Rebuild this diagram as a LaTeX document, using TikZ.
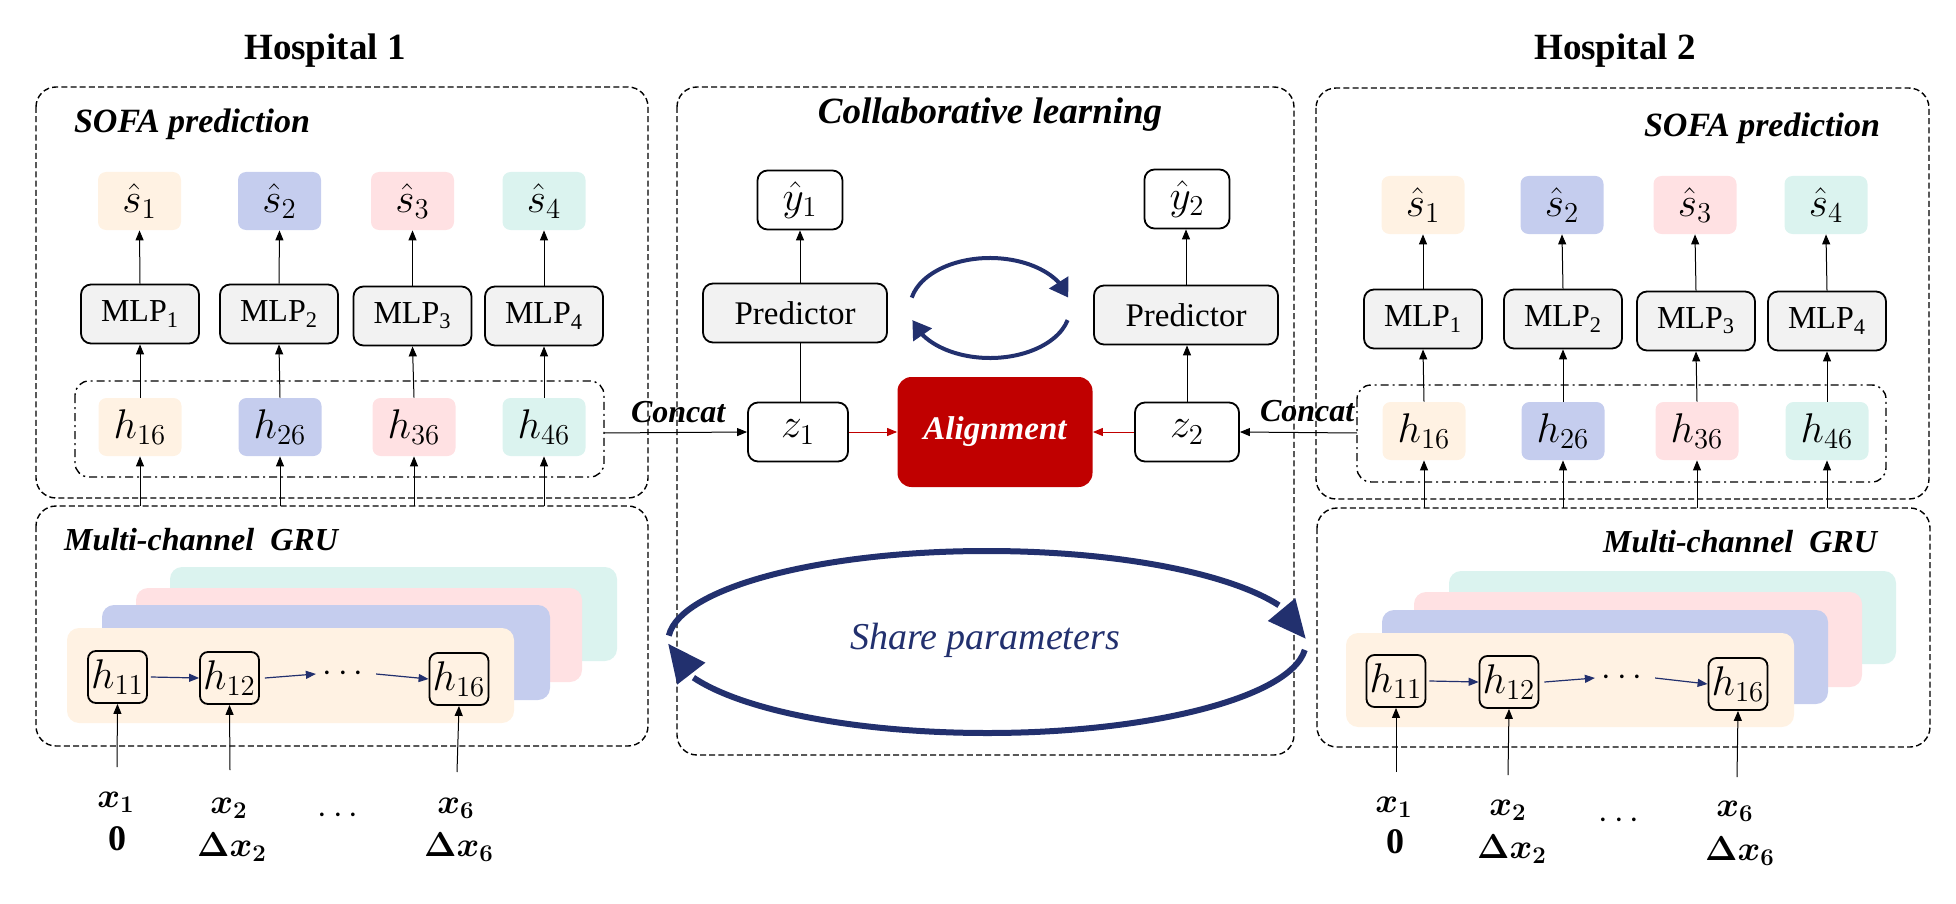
\documentclass[tikz,border=0pt]{standalone}
\usepackage{fontspec}
\setmainfont{Liberation Serif}
\usepackage{amsmath,bm}
\usetikzlibrary{arrows.meta,bending,calc}
\definecolor{corange}{HTML}{FFF2E3}
\definecolor{cblue}{HTML}{C5CDEE}
\definecolor{cpink}{HTML}{FFE1E3}
\definecolor{cteal}{HTML}{DBF3EF}
\definecolor{boxgray}{HTML}{F2F2F2}
\definecolor{navy}{HTML}{22306E}
\definecolor{alignred}{HTML}{C00000}
\newcommand\myfs[1]{\fontsize{#1}{#1}\selectfont}
\tikzset{
 panel/.style={draw, line width=0.7pt, dash pattern=on 3pt off 1.6pt, rounded corners=10pt},
 ddbox/.style={draw, line width=0.7pt, dash pattern=on 4pt off 2pt on 1pt off 2pt, rounded corners=7pt},
 cbox/.style={rounded corners=4pt, inner sep=0pt, minimum width=41.5pt, minimum height=29pt, font=\myfs{21}},
 mlp/.style={draw, line width=0.9pt, fill=boxgray, rounded corners=5pt, inner sep=0pt, minimum width=59pt, minimum height=29.5pt, font=\myfs{16}},
 pred/.style={mlp, minimum width=92pt, font=\myfs{16.5}},
 wbox/.style={draw, line width=0.9pt, fill=white, rounded corners=5pt, inner sep=0pt, minimum height=29.5pt, font=\myfs{22}},
 hbox/.style={draw, line width=0.9pt, rounded corners=4pt, inner sep=0pt, minimum width=29.5pt, minimum height=26pt, font=\myfs{19.5}},
 arr/.style={-{Triangle[length=5pt,width=4pt]}, line width=0.5pt},
 narr/.style={arr, draw=navy, line width=0.6pt},
 rarr/.style={arr, draw=alignred},
 htitle/.style={font=\myfs{18.5}\bfseries, anchor=base},
 ltitle/.style={font=\myfs{16}\bfseries\itshape, anchor=base},
 inp/.style={inner sep=1pt, font=\myfs{18}},
 bigarr/.style={draw=navy, line width=3pt, -{Triangle[length=19pt,width=17pt]}},
 smarr/.style={draw=navy, line width=2pt, -{Triangle[length=9pt,width=11pt]}},
}
\begin{document}
\begin{tikzpicture}[x=0.5pt,y=-0.5pt]
\useasboundingbox (0,0) rectangle (1956,904);

% ================= Hospital 1 =================
\node[htitle] (t1) at (325,60) {Hospital 1};
\draw[panel] (36,87) rectangle (648,498);
\draw[panel] (36,506) rectangle (648,746);
\coordinate (g1top) at (342,506);
\node[ltitle, anchor=base west, font=\myfs{17}\bfseries\itshape] (sofa1) at (67,133) {SOFA prediction};
\node[ltitle, anchor=base west] (gru1) at (57,550) {Multi-channel\ \ GRU};

\node[cbox, fill=corange] (a1s1) at (139.5,201) {$\hat{s}_1$};
\node[cbox, fill=cblue]   (a1s2) at (279.5,201) {$\hat{s}_2$};
\node[cbox, fill=cpink]   (a1s3) at (412.5,201) {$\hat{s}_3$};
\node[cbox, fill=cteal]   (a1s4) at (544,201) {$\hat{s}_4$};

\node[mlp] (a1m1) at (140,314) {MLP\textsubscript{1}};
\node[mlp] (a1m2) at (279,314) {MLP\textsubscript{2}};
\node[mlp] (a1m3) at (412.5,316) {MLP\textsubscript{3}};
\node[mlp] (a1m4) at (544,316) {MLP\textsubscript{4}};

\draw[ddbox] (75,381) rectangle (604,477);
\coordinate (dd1r) at (604,433);
\node[cbox, fill=corange] (a1h1) at (140,427) {$h_{16}$};
\node[cbox, fill=cblue]   (a1h2) at (280,427) {$h_{26}$};
\node[cbox, fill=cpink]   (a1h3) at (414,427) {$h_{36}$};
\node[cbox, fill=cteal]   (a1h4) at (544,427) {$h_{46}$};

\foreach \i in {1,2,3,4}{
  \draw[arr] (a1m\i.north) -- (a1s\i.south);
  \draw[arr] (a1h\i.north) -- (a1m\i.south);
  \draw[arr] (a1h\i.south |- g1top) -- (a1h\i.south);
}

\fill[cteal, rounded corners=6pt] (170,567) rectangle (617,661);
\fill[cpink, rounded corners=6pt] (136,588) rectangle (582,682);
\fill[cblue, rounded corners=6pt] (102,605) rectangle (550,700);
\fill[corange, rounded corners=6pt] (67,628) rectangle (514,723);

\node[hbox] (g1h1) at (117.5,677) {$h_{11}$};
\node[hbox] (g1h2) at (229.5,678) {$h_{12}$};
\node[font=\myfs{19}] (g1dots) at (346,674) {$\cdots$};
\node[hbox] (g1h6) at (459,679) {$h_{16}$};
\draw[narr] (g1h1.east) ++(3,0) -- (g1h2.west);
\draw[narr] (g1h2.east) ++(5,0) -- (g1dots.west);
\draw[narr] (g1dots.east) -- (g1h6.west);

\node[inp] (i1x1) at (116,802) {$\bm{x}_{\bm{1}}$};
\node[inp] (i1z1) at (117,839) {$\mathbf{0}$};
\node[inp] (i1x2) at (229,808) {$\bm{x}_{\bm{2}}$};
\node[inp] (i1d2) at (232,847) {$\bm{\Delta x}_{\bm{2}}$};
\node[font=\myfs{19}] (i1dots) at (341,816) {$\cdots$};
\node[inp] (i1x6) at (456,808) {$\bm{x}_{\bm{6}}$};
\node[inp] (i1d6) at (459,847) {$\bm{\Delta x}_{\bm{6}}$};
\coordinate (c1a) at (117,767);
\coordinate (c1b) at (230,770);
\coordinate (c1c) at (457,772);
\draw[arr] (c1a) -- (g1h1.south);
\draw[arr] (c1b) -- (g1h2.south);
\draw[arr] (c1c) -- (g1h6.south);

% ================= Collaborative learning =================
\draw[panel] (677,87) rectangle (1294,755);
\node[ltitle, font=\myfs{18.5}\bfseries\itshape] (collab) at (990,124) {Collaborative learning};

\node[wbox, minimum width=42.5pt, font=\myfs{21}] (y1) at (800,200) {$\hat{y}_1$};
\node[pred] (p1) at (795,313) {Predictor};
\node[wbox, minimum width=50pt] (z1) at (798,432) {$z_1$};
\node[fill=alignred, rounded corners=7pt, minimum width=97.5pt, minimum height=55pt, inner sep=0pt,
      text=white, font=\myfs{16.5}\bfseries\itshape] (align) at (995,432) {Alignment};
\node[wbox, minimum width=52pt] (z2) at (1187,432) {$z_2$};
\node[pred] (p2) at (1186,315) {Predictor};
\node[wbox, minimum width=42.5pt, font=\myfs{21}] (y2) at (1187,199) {$\hat{y}_2$};

\draw[arr] (y1.south |- p1.north) -- (y1.south);
\draw[line width=0.5pt] (y1.south |- z1.north) -- (y1.south |- p1.south);
\draw[arr] (z2.north) -- (z2.north |- p2.south);
\draw[arr] (p2.north) -- (p2.north |- y2.south);
\draw[rarr] (z1.east) -- (align.west);
\draw[rarr] (z2.west) -- (align.east);

\draw[arr] (dd1r) -- (z1.west);
\node[ltitle, anchor=base west] (cc1) at (624,422) {Concat};

\draw[smarr] ($(990,308)+(192:80 and 50)$) arc[start angle=192, end angle=348, x radius=80, y radius=50];
\draw[smarr] ($(990,308)+(14:80 and 50)$) arc[start angle=14, end angle=166, x radius=80, y radius=50];

\draw[bigarr] ($(987,642)+(184:319 and 91)$) arc[start angle=184, end angle=358, x radius=319, y radius=91];
\draw[bigarr] ($(987,642)+(5:319 and 91)$) arc[start angle=5, end angle=179, x radius=319, y radius=91];
\node[font=\myfs{19}\itshape, text=navy] (share) at (985,640) {Share parameters};

% ================= Hospital 2 =================
\node[htitle] (t2) at (1615,60) {Hospital 2};
\draw[panel] (1316,88) rectangle (1929,499);
\draw[panel] (1317,508) rectangle (1930,747);
\coordinate (g2top) at (1620,508);
\node[ltitle, anchor=base east, font=\myfs{17}\bfseries\itshape] (sofa2) at (1887,137) {SOFA prediction};
\node[ltitle, anchor=base east] (gru2) at (1884,552) {Multi-channel\ \ GRU};

\node[cbox, fill=corange] (b1s1) at (1423,205) {$\hat{s}_1$};
\node[cbox, fill=cblue]   (b1s2) at (1562,205) {$\hat{s}_2$};
\node[cbox, fill=cpink]   (b1s3) at (1695,205) {$\hat{s}_3$};
\node[cbox, fill=cteal]   (b1s4) at (1826,205) {$\hat{s}_4$};

\node[mlp] (b1m1) at (1423,319) {MLP\textsubscript{1}};
\node[mlp] (b1m2) at (1563,319) {MLP\textsubscript{2}};
\node[mlp] (b1m3) at (1696,321) {MLP\textsubscript{3}};
\node[mlp] (b1m4) at (1827,321) {MLP\textsubscript{4}};

\draw[ddbox] (1357,385) rectangle (1886,482);
\coordinate (dd2l) at (1357,433);
\node[cbox, fill=corange] (b1h1) at (1424,431) {$h_{16}$};
\node[cbox, fill=cblue]   (b1h2) at (1563,431) {$h_{26}$};
\node[cbox, fill=cpink]   (b1h3) at (1697,431) {$h_{36}$};
\node[cbox, fill=cteal]   (b1h4) at (1827,431) {$h_{46}$};

\foreach \i in {1,2,3,4}{
  \draw[arr] (b1m\i.north) -- (b1s\i.south);
  \draw[arr] (b1h\i.north) -- (b1m\i.south);
  \draw[arr] (b1h\i.south |- g2top) -- (b1h\i.south);
}

\draw[arr] (dd2l) -- (z2.east);
\node[ltitle, anchor=base west] (cc2) at (1253,421) {Concat};

\fill[cteal, rounded corners=6pt] (1449,571) rectangle (1896,664);
\fill[cpink, rounded corners=6pt] (1414,592) rectangle (1862,687);
\fill[cblue, rounded corners=6pt] (1382,610) rectangle (1828,704);
\fill[corange, rounded corners=6pt] (1346,633) rectangle (1794,727);

\node[hbox] (g2h1) at (1396,681) {$h_{11}$};
\node[hbox] (g2h2) at (1509,682) {$h_{12}$};
\node[font=\myfs{19}] (g2dots) at (1625,678) {$\cdots$};
\node[hbox] (g2h6) at (1738,684) {$h_{16}$};
\draw[narr] (g2h1.east) ++(3,0) -- (g2h2.west);
\draw[narr] (g2h2.east) ++(5,0) -- (g2dots.west);
\draw[narr] (g2dots.east) -- (g2h6.west);

\node[inp] (i2x1) at (1394,807) {$\bm{x}_{\bm{1}}$};
\node[inp] (i2z1) at (1395,842) {$\mathbf{0}$};
\node[inp] (i2x2) at (1508,810) {$\bm{x}_{\bm{2}}$};
\node[inp] (i2d2) at (1512,849) {$\bm{\Delta x}_{\bm{2}}$};
\node[font=\myfs{19}] (i2dots) at (1622,821) {$\cdots$};
\node[inp] (i2x6) at (1735,811) {$\bm{x}_{\bm{6}}$};
\node[inp] (i2d6) at (1740,851) {$\bm{\Delta x}_{\bm{6}}$};
\coordinate (c2a) at (1396,772);
\coordinate (c2b) at (1508,775);
\coordinate (c2c) at (1737,777);
\draw[arr] (c2a) -- (g2h1.south);
\draw[arr] (c2b) -- (g2h2.south);
\draw[arr] (c2c) -- (g2h6.south);
\end{tikzpicture}
\end{document}
